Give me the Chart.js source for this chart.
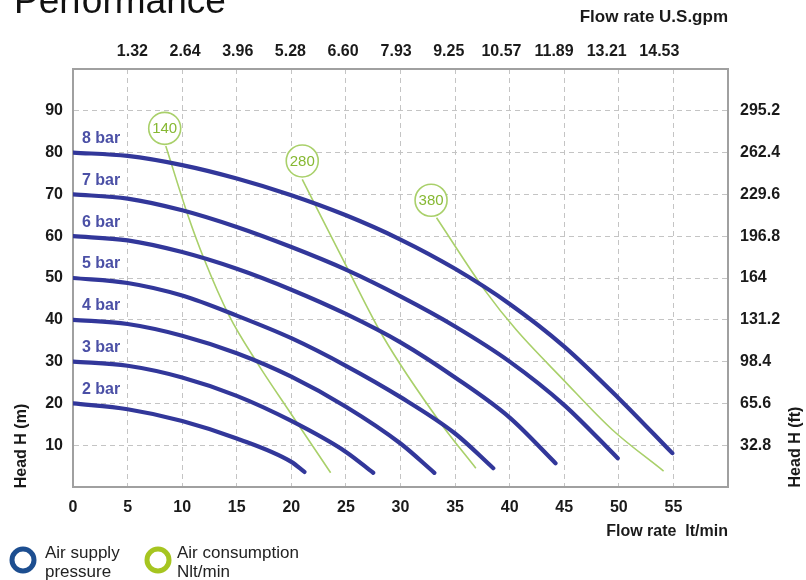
<!DOCTYPE html>
<html><head><meta charset="utf-8">
<script src="https://cdn.jsdelivr.net/npm/chart.js@4.4.0/dist/chart.umd.min.js"></script>
<style>html,body{margin:0;padding:0;background:#fff;}canvas{display:block;}</style>
</head><body>
<canvas id="c" width="806" height="580"></canvas>
<script>
// ---- axis ticks / labels ----
const flowTicks = [0, 5, 10, 15, 20, 25, 30, 35, 40, 45, 50, 55];
const headTicks = [10, 20, 30, 40, 50, 60, 70, 80, 90];
const gpmLabels = ['1.32', '2.64', '3.96', '5.28', '6.60', '7.93', '9.25', '10.57', '11.89', '13.21', '14.53'];
const ftLabels = ['32.8', '65.6', '98.4', '131.2', '164', '196.8', '229.6', '262.4', '295.2'];

// ---- air supply pressure curves (flow lt/min, head m) ----
const bar8Flow = [0, 5, 10, 15, 20, 25, 30, 35, 40, 45, 50, 54.9];
const bar8Head = [80, 79.2, 77.0, 73.8, 69.8, 65.0, 59.2, 52.2, 43.8, 33.6, 21.2, 8.1];
const bar7Flow = [0, 5, 10, 15, 20, 25, 30, 35, 40, 45, 49.9];
const bar7Head = [70, 69, 66.2, 62.2, 57.4, 52, 45.6, 38.4, 30, 19.6, 6.9];
const bar6Flow = [0, 5, 10, 15, 20, 25, 30, 35, 40, 44.2];
const bar6Head = [60, 59, 56.2, 52.2, 47.2, 41.4, 34.6, 26.2, 16.6, 5.7];
const bar5Flow = [0, 5, 10, 15, 20, 25, 30, 35, 38.5];
const bar5Head = [50, 48.8, 45.8, 41.0, 35.6, 29.0, 21.5, 12.8, 4.5];
const bar4Flow = [0, 5, 10, 15, 20, 25, 30, 33.1];
const bar4Head = [40, 39, 36.2, 32, 26.4, 19.2, 10.4, 3.4];
const bar3Flow = [0, 5, 10, 15, 20, 25, 27.5];
const bar3Head = [30, 29, 26.2, 21.8, 15.8, 8.4, 3.4];
const bar2Flow = [0, 5, 10, 15, 20, 21.2];
const bar2Head = [20, 18.6, 15.8, 11.6, 6.0, 3.6];

// ---- air consumption lines (Nlt/min) ----
const air140Flow = [8.5, 10.5, 12.0, 14.3, 16.8, 20.0, 23.6];
const air140Head = [81.6, 65.2, 54.6, 41.0, 30.0, 17.4, 3.4];
const air280Flow = [21.0, 25.2, 28.4, 33.7, 36.9];
const air280Head = [73.6, 52.0, 36.0, 15.2, 4.5];
const air380Flow = [33.3, 37.8, 40.6, 44.9, 49.4, 54.1];
const air380Head = [64.4, 46.8, 37.6, 25.7, 13.7, 3.8];
const airLabels = ['140', '280', '380'];
const airLabelFlow = [8.4, 21.0, 32.8];
const airLabelHead = [85.8, 78.0, 68.6];

const BLUE = '#32379a';
const BLUE_TXT = '#4b50a6';
const GREEN = '#a9d06a';
const GREEN_TXT = '#86b832';
const GRID = '#c4c4c4';
const AXIS = '#a0a0a0';
const FONT = "'Liberation Sans', Arial, sans-serif";

const pts = (xs, ys) => xs.map((x, i) => ({x: x, y: ys[i]}));

function barSet(label, xs, ys) {
  return {kind: 'bar', label: label, data: pts(xs, ys), showLine: true, borderColor: BLUE,
    borderWidth: 4.2, pointRadius: 0, borderCapStyle: 'round', borderJoinStyle: 'round',
    cubicInterpolationMode: 'monotone', xAxisID: 'x', yAxisID: 'y'};
}
function airSet(label, xs, ys) {
  return {kind: 'air', label: label, data: pts(xs, ys), showLine: true, borderColor: GREEN,
    borderWidth: 1.6, pointRadius: 0, cubicInterpolationMode: 'monotone',
    xAxisID: 'x', yAxisID: 'y'};
}

const datasets = [
  {kind: 'ring', label: 'rings', data: pts(airLabelFlow, airLabelHead), showLine: false,
   pointRadius: 16, pointBackgroundColor: '#ffffff', pointBorderColor: GREEN, pointBorderWidth: 1.6,
   xAxisID: 'x', yAxisID: 'y'},
  barSet('8 bar', bar8Flow, bar8Head),
  barSet('7 bar', bar7Flow, bar7Head),
  barSet('6 bar', bar6Flow, bar6Head),
  barSet('5 bar', bar5Flow, bar5Head),
  barSet('4 bar', bar4Flow, bar4Head),
  barSet('3 bar', bar3Flow, bar3Head),
  barSet('2 bar', bar2Flow, bar2Head),
  airSet('140', air140Flow, air140Head),
  airSet('280', air280Flow, air280Head),
  airSet('380', air380Flow, air380Head)
];

const tickFont = {family: FONT, size: 16, weight: 'bold'};
const hideEdge = (c) => (c.tick && (c.tick.value === 0)) ? 'rgba(0,0,0,0)' : GRID;

const decor = {
  id: 'decor',
  afterDatasetsDraw(chart) {
    const ctx = chart.ctx;
    ctx.save();
    chart.data.datasets.forEach((ds, i) => {
      const meta = chart.getDatasetMeta(i);
      if (ds.kind === 'bar') {
        const p = meta.data[0];
        ctx.font = 'bold 16px ' + FONT;
        ctx.fillStyle = BLUE_TXT;
        ctx.textAlign = 'left';
        ctx.textBaseline = 'middle';
        ctx.fillText(ds.label, p.x + 9, p.y - 14);
      } else if (ds.kind === 'ring') {
        meta.data.forEach((p, j) => {
          ctx.font = '15px ' + FONT;
          ctx.fillStyle = GREEN_TXT;
          ctx.textAlign = 'center';
          ctx.textBaseline = 'middle';
          ctx.fillText(airLabels[j], p.x, p.y + 1);
        });
      }
    });
    ctx.restore();
  },
  afterDraw(chart) {
    const ctx = chart.ctx;
    ctx.save();
    // title (cut at top)
    ctx.font = '37px ' + FONT;
    ctx.fillStyle = '#111';
    ctx.textAlign = 'left';
    ctx.textBaseline = 'alphabetic';
    ctx.fillText('Performance', 14, 13);
    // axis titles
    ctx.fillStyle = '#1a1a1a';
    ctx.textAlign = 'right';
    ctx.textBaseline = 'middle';
    ctx.font = 'bold 17px ' + FONT;
    ctx.fillText('Flow rate U.S.gpm', 728, 17);
    ctx.font = 'bold 16px ' + FONT;
    ctx.fillText('Flow rate  lt/min', 728, 532);
    ctx.textAlign = 'center';
    ctx.save();
    ctx.translate(22, 446);
    ctx.rotate(-Math.PI / 2);
    ctx.fillText('Head H (m)', 0, 0);
    ctx.restore();
    ctx.save();
    ctx.translate(796, 447);
    ctx.rotate(-Math.PI / 2);
    ctx.fillText('Head H (ft)', 0, 0);
    ctx.restore();
    // legend
    ctx.lineWidth = 5;
    ctx.strokeStyle = '#1d4e90';
    ctx.beginPath(); ctx.arc(23, 560, 11, 0, Math.PI * 2); ctx.stroke();
    ctx.strokeStyle = '#a6c520';
    ctx.beginPath(); ctx.arc(158, 560, 11, 0, Math.PI * 2); ctx.stroke();
    ctx.font = '17px ' + FONT;
    ctx.fillStyle = '#222';
    ctx.textAlign = 'left';
    ctx.textBaseline = 'alphabetic';
    ctx.fillText('Air supply', 45, 558);
    ctx.fillText('pressure', 45, 577);
    ctx.fillText('Air consumption', 177, 558);
    ctx.fillText('Nlt/min', 177, 577);
    ctx.restore();
  }
};

new Chart(document.getElementById('c'), {
  type: 'scatter',
  data: {datasets: datasets},
  plugins: [decor],
  options: {
    responsive: false,
    animation: false,
    devicePixelRatio: 1,
    layout: {padding: 0},
    plugins: {legend: {display: false}, tooltip: {enabled: false}, title: {display: false}},
    scales: {
      x: {
        type: 'linear', position: 'bottom', min: 0, max: 60,
        afterBuildTicks: s => { s.ticks = flowTicks.map(v => ({value: v})); },
        afterFit: s => { s.height = 93; },
        ticks: {font: tickFont, color: '#1a1a1a', padding: 11, maxRotation: 0, autoSkip: false,
          callback: v => String(v)},
        grid: {color: hideEdge, drawTicks: false, lineWidth: 1},
        border: {display: true, color: AXIS, width: 2, dash: [5, 4]}
      },
      y: {
        type: 'linear', position: 'left', min: 0, max: 100,
        afterBuildTicks: s => { s.ticks = headTicks.map(v => ({value: v})); },
        afterFit: s => { s.width = 73; },
        ticks: {font: tickFont, color: '#1a1a1a', padding: 10, autoSkip: false, callback: v => String(v)},
        grid: {color: GRID, drawTicks: false, lineWidth: 1},
        border: {display: true, color: AXIS, width: 2, dash: [5, 4]}
      },
      xTop: {
        type: 'linear', position: 'top', min: -0.17, max: 16.25,
        afterBuildTicks: s => { s.ticks = gpmLabels.map(v => ({value: parseFloat(v)})); },
        afterFit: s => { s.height = 69; },
        ticks: {font: tickFont, color: '#1a1a1a', padding: 8, maxRotation: 0, autoSkip: false,
          callback: (v, i) => gpmLabels[i]},
        grid: {display: false, drawTicks: false},
        border: {display: true, color: AXIS, width: 2}
      },
      yRight: {
        type: 'linear', position: 'right', min: 0, max: 328,
        afterBuildTicks: s => { s.ticks = ftLabels.map(v => ({value: parseFloat(v)})); },
        afterFit: s => { s.width = 78; },
        ticks: {font: tickFont, color: '#1a1a1a', padding: 12, autoSkip: false,
          callback: (v, i) => ftLabels[i]},
        grid: {display: false, drawTicks: false},
        border: {display: true, color: AXIS, width: 2}
      }
    }
  }
});
</script>
</body></html>
